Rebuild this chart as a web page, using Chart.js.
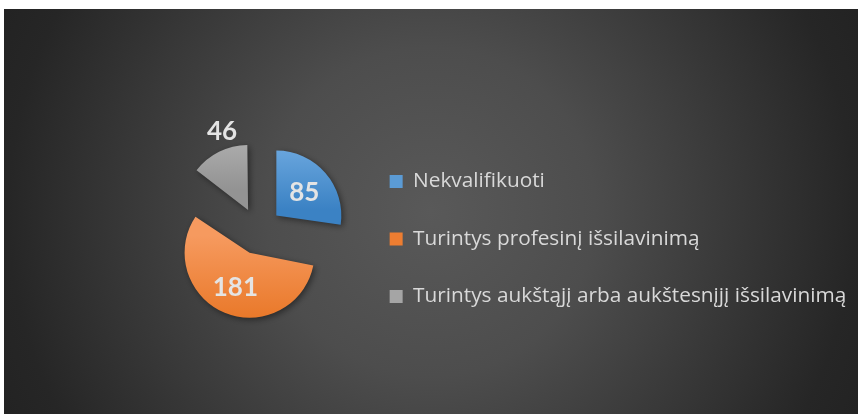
<!DOCTYPE html>
<html>
<head>
<meta charset="utf-8">
<script src="https://cdn.jsdelivr.net/npm/chart.js@4.4.1/dist/chart.umd.min.js"></script>
<style>
    html, body { margin: 0; padding: 0; background: #fff; }
    #wrap { position: relative; width: 861px; height: 414px; }
</style>
</head>
<body>
<div id="wrap"><canvas id="pie"></canvas></div>
<script>
// Values.
const categories = ['Nekvalifikuoti', 'Turintys profesinį išsilavinimą', 'Turintys aukštąjį arba aukštesnįjį išsilavinimą'];
const counts = [85, 181, 46];

// Office-style palette: flat colour for the legend, top/bottom for the slice gradient.
const flatColors = ['#5b9bd5', '#ed7d31', '#a5a5a5'];
const topColors = ['#74aee3', '#f69a5f', '#b6b6b6'];
const bottomColors = ['#3b82c4', '#e6701c', '#939393'];

const RADIUS = 65;
const EXPLODE = 94; // chart.js arc offset is applied /4 -> ~23.5px
const LEGEND_FONT = 20.8;

const PANEL = { left: 4, top: 9, right: 858, bottom: 414 };

function arcVertex(arc) {
    const { x, y, startAngle, endAngle } = arc.getProps(['x', 'y', 'startAngle', 'endAngle'], true);
    const mid = (startAngle + endAngle) / 2;
    const shift = EXPLODE / 4;
    return { x: x + Math.cos(mid) * shift, y: y + Math.sin(mid) * shift, mid };
}

// Radial dark background only over the panel area (white strip at top/left).
const panelBg = {
    id: 'panelBg',
    beforeDraw(chart) {
        const ctx = chart.ctx;
        const w = PANEL.right - PANEL.left, h = PANEL.bottom - PANEL.top;
        const cx = PANEL.left + w / 2, cy = PANEL.top + h / 2;
        const g = ctx.createRadialGradient(cx, cy, 0, cx, cy, 470);
        g.addColorStop(0, '#595959');
        g.addColorStop(0.35, '#4d4d4d');
        g.addColorStop(0.9, '#262626');
        g.addColorStop(1, '#232323');
        ctx.save();
        ctx.fillStyle = g;
        ctx.fillRect(PANEL.left, PANEL.top, w, h);
        ctx.restore();
    }
};

// Chart.js grows the radius of wide slices by offset*fix; undo that so all slices share one radius.
const keepRadius = {
    id: 'keepRadius',
    afterDatasetsUpdate(chart) {
        chart.getDatasetMeta(0).data.forEach(arc => {
            const circ = arc.endAngle - arc.startAngle;
            const fix = 1 - Math.sin(Math.min(Math.PI, circ));
            arc.outerRadius = RADIUS - (EXPLODE / 4) * fix;
        });
    }
};

const sliceShadow = {
    id: 'sliceShadow',
    beforeDatasetsDraw(chart) {
        const ctx = chart.ctx;
        ctx.save();
        ctx.shadowColor = 'rgba(0,0,0,0.45)';
        ctx.shadowBlur = 6;
        ctx.shadowOffsetX = 2;
        ctx.shadowOffsetY = 2;
    },
    afterDatasetsDraw(chart) {
        chart.ctx.restore();
    }
};

// Value labels: inside for big slices, outside (above/below) for small ones.
const valueLabels = {
    id: 'valueLabels',
    afterDraw(chart) {
        const ctx = chart.ctx;
        const total = counts.reduce((s, v) => s + v, 0);
        ctx.save();
        ctx.font = 'bold 26px Lato';
        ctx.fillStyle = '#e4e4e4';
        ctx.textAlign = 'center';
        ctx.textBaseline = 'middle';
        chart.getDatasetMeta(0).data.forEach((arc, i) => {
            const v = arcVertex(arc);
            const c = Math.cos(v.mid), s = Math.sin(v.mid);
            let lx, ly;
            if (counts[i] / total > 0.2) {
                lx = v.x + c * RADIUS * 0.57;
                ly = v.y + s * RADIUS * 0.57 + 1;
            } else {
                lx = v.x + c * RADIUS + 3;
                ly = v.y + s * RADIUS + Math.sign(s) * 20;
            }
            ctx.fillText(String(counts[i]), lx, ly);
        });
        ctx.restore();
    }
};

function sliceGradient(context) {
    const chart = context.chart;
    const area = chart.chartArea;
    const i = context.dataIndex;
    if (!area) return flatColors[i];
    const total = counts.reduce((s, v) => s + v, 0);
    let start = -Math.PI / 2;
    for (let k = 0; k < i; k++) start += counts[k] / total * Math.PI * 2;
    const end = start + counts[i] / total * Math.PI * 2;
    const mid = (start + end) / 2;
    const cx = (area.left + area.right) / 2 + Math.cos(mid) * EXPLODE / 4;
    const cy = (area.top + area.bottom) / 2 + Math.sin(mid) * EXPLODE / 4;
    let minY = cy, maxY = cy;
    for (let t = 0; t <= 24; t++) {
        const a = start + (end - start) * t / 24;
        const y = cy + Math.sin(a) * RADIUS;
        minY = Math.min(minY, y);
        maxY = Math.max(maxY, y);
    }
    const g = chart.ctx.createLinearGradient(0, minY, 0, maxY);
    g.addColorStop(0, topColors[i]);
    g.addColorStop(1, bottomColors[i]);
    return g;
}

new Chart(document.getElementById('pie'), {
    type: 'pie',
    data: {
        labels: categories,
        datasets: [{
            data: counts,
            backgroundColor: sliceGradient,
            borderWidth: 0,
            offset: EXPLODE,
            hoverOffset: 0,
        }],
    },
    options: {
        responsive: true, maintainAspectRatio: false,
        animation: false,
        radius: RADIUS,
        layout: { padding: { left: 133.5, right: 4.7, top: 118.4, bottom: 70.4 } },
        plugins: {
            tooltip: { enabled: false },
            legend: {
                position: 'right', align: 'end',
                maxWidth: 1000,
                labels: {
                    boxWidth: 13, boxHeight: 13, padding: 6,
                    color: '#d9d9d9', textAlign: 'left',
                    // one-line arrays so the row height follows the font's lineHeight
                    font: { family: 'Open Sans', size: LEGEND_FONT, lineHeight: 51.5 / LEGEND_FONT },
                    generateLabels: chart => categories.map((text, i) => ({
                        text: [text], fillStyle: flatColors[i], strokeStyle: flatColors[i],
                        lineWidth: 0, hidden: false, index: i, fontColor: '#d9d9d9',
                    })),
                },
            },
        },
    },
    plugins: [panelBg, keepRadius, sliceShadow, valueLabels],
});
</script>
</body>
</html>
